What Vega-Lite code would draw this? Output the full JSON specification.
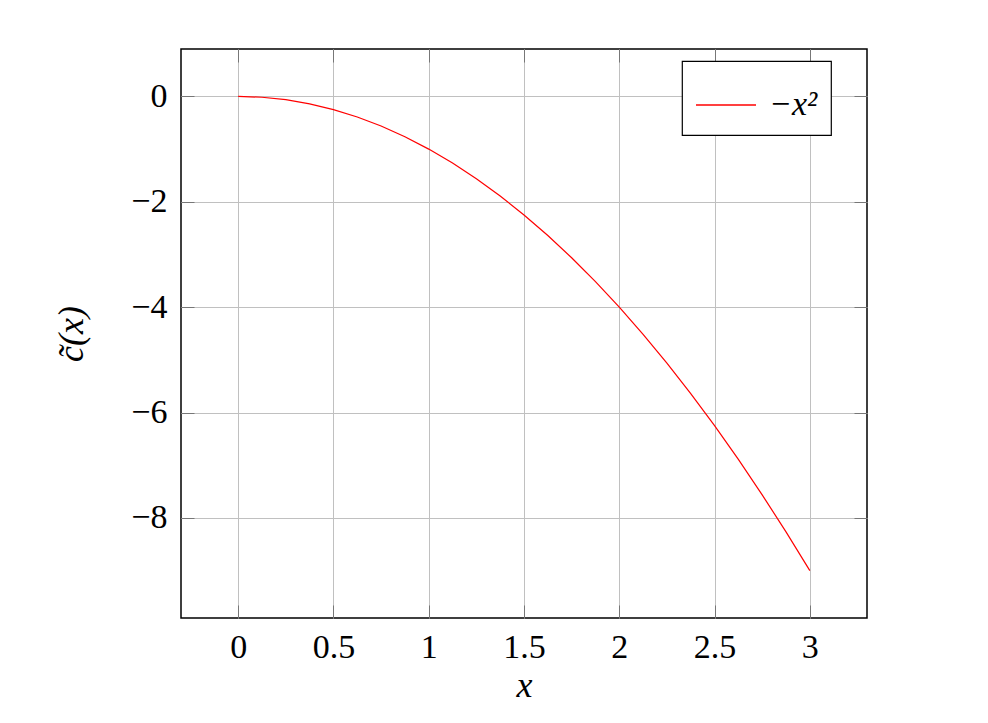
{
  "$schema": "https://vega.github.io/schema/vega-lite/v6.json",
  "width": 686,
  "height": 569,
  "autosize": {"type": "none"},
  "padding": {"left": 181, "top": 49, "right": 121, "bottom": 105},
  "background": "white",
  "config": {
    "font": "'Liberation Serif', 'DejaVu Serif', serif",
    "view": {"stroke": "black", "strokeWidth": 1.5},
    "axis": {"labelFont": "'Liberation Serif', 'DejaVu Serif', serif", "titleFont": "'Liberation Serif', 'DejaVu Serif', serif", "labelColor": "black", "titleColor": "black"},
    "legend": {"strokeWidth": 1.2}
  },
  "data": {
    "values": [
      {"x": 0, "y": 0, "s": "−x²"},
      {"x": 0.125, "y": -0.015625, "s": "−x²"},
      {"x": 0.25, "y": -0.0625, "s": "−x²"},
      {"x": 0.375, "y": -0.140625, "s": "−x²"},
      {"x": 0.5, "y": -0.25, "s": "−x²"},
      {"x": 0.625, "y": -0.390625, "s": "−x²"},
      {"x": 0.75, "y": -0.5625, "s": "−x²"},
      {"x": 0.875, "y": -0.765625, "s": "−x²"},
      {"x": 1, "y": -1, "s": "−x²"},
      {"x": 1.125, "y": -1.265625, "s": "−x²"},
      {"x": 1.25, "y": -1.5625, "s": "−x²"},
      {"x": 1.375, "y": -1.890625, "s": "−x²"},
      {"x": 1.5, "y": -2.25, "s": "−x²"},
      {"x": 1.625, "y": -2.640625, "s": "−x²"},
      {"x": 1.75, "y": -3.0625, "s": "−x²"},
      {"x": 1.875, "y": -3.515625, "s": "−x²"},
      {"x": 2, "y": -4, "s": "−x²"},
      {"x": 2.125, "y": -4.515625, "s": "−x²"},
      {"x": 2.25, "y": -5.0625, "s": "−x²"},
      {"x": 2.375, "y": -5.640625, "s": "−x²"},
      {"x": 2.5, "y": -6.25, "s": "−x²"},
      {"x": 2.625, "y": -6.890625, "s": "−x²"},
      {"x": 2.75, "y": -7.5625, "s": "−x²"},
      {"x": 2.875, "y": -8.265625, "s": "−x²"},
      {"x": 3, "y": -9, "s": "−x²"}
    ]
  },
  "layer": [
    {
      "mark": {"type": "line", "strokeWidth": 1.2, "clip": true},
      "encoding": {
        "x": {
          "field": "x", "type": "quantitative",
          "scale": {"domain": [-0.3, 3.3], "nice": false, "zero": false},
          "axis": {
            "orient": "bottom", "values": [0, 0.5, 1, 1.5, 2, 2.5, 3], "format": "~g",
            "title": "x", "titleFontStyle": "italic", "titleFontWeight": "normal", "titleFontSize": 36, "titlePadding": 4,
            "labelFontSize": 34, "labelPadding": 25, "labelFlush": false,
            "grid": true, "gridColor": "#c0c0c0", "gridWidth": 1,
            "domain": false, "ticks": true, "tickSize": -13, "tickColor": "#777", "tickWidth": 1
          }
        },
        "y": {
          "field": "y", "type": "quantitative",
          "scale": {"domain": [-9.9, 0.9], "nice": false, "zero": false},
          "axis": {
            "orient": "left", "values": [0, -2, -4, -6, -8], "format": "~g",
            "title": "c̃(x)", "titleFontStyle": "italic", "titleFontWeight": "normal", "titleFontSize": 36, "titlePadding": 40,
            "labelFontSize": 34, "labelPadding": 27, "labelFlush": false,
            "grid": true, "gridColor": "#c0c0c0", "gridWidth": 1,
            "domain": false, "ticks": true, "tickSize": -13, "tickColor": "#777", "tickWidth": 1
          }
        },
        "color": {
          "field": "s", "type": "nominal",
          "scale": {"domain": ["−x²"], "range": ["red"]},
          "legend": {
            "title": null, "orient": "none", "legendX": 501, "legendY": 12,
            "strokeColor": "black", "cornerRadius": 0, "fillColor": "white",
            "padding": 13, "symbolType": "stroke", "symbolSize": 3600, "symbolStrokeWidth": 1.5,
            "symbolStrokeColor": "red",
            "labelFontSize": 34, "labelFontStyle": "italic", "labelColor": "black", "labelOffset": 12,
            "labelFont": "'Liberation Serif', 'DejaVu Serif', serif"
          }
        }
      }
    },
    {
      "mark": {"type": "line", "opacity": 0},
      "encoding": {
        "x": {
          "field": "x", "type": "quantitative",
          "axis": {
            "orient": "top", "values": [0, 0.5, 1, 1.5, 2, 2.5, 3], "labels": false, "title": null,
            "grid": false, "domain": false, "ticks": true, "tickSize": -13, "tickColor": "#777", "tickWidth": 1
          }
        },
        "y": {
          "field": "y", "type": "quantitative",
          "axis": {
            "orient": "right", "values": [0, -2, -4, -6, -8], "labels": false, "title": null,
            "grid": false, "domain": false, "ticks": true, "tickSize": -13, "tickColor": "#777", "tickWidth": 1
          }
        }
      }
    }
  ],
  "resolve": {"axis": {"x": "independent", "y": "independent"}}
}
